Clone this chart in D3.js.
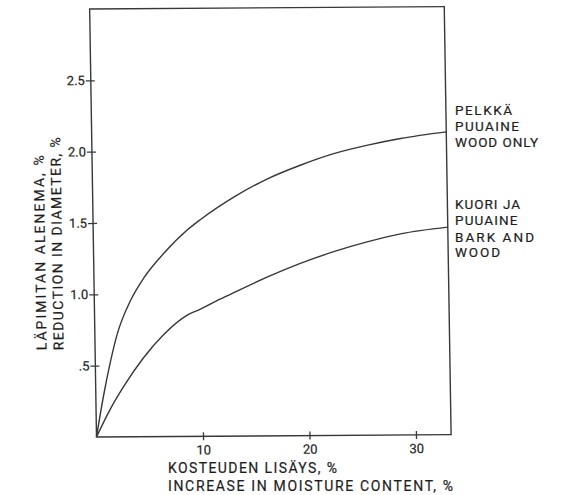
<!DOCTYPE html>
<html><head><meta charset="utf-8">
<script src="https://cdn.jsdelivr.net/npm/d3@7"></script>
<style>
html,body{margin:0;padding:0;background:#fff;}
svg{display:block;}
text{font-family:Roboto,"DejaVu Sans",sans-serif;fill:#1e1e1e;stroke:#1e1e1e;stroke-width:0.2;}
</style>
</head><body><svg id="chart" width="564" height="495"></svg>
<script>
// ---- data ----
const woodOnlyX = [0, 0.7, 1.4, 2.1, 3.4, 4.7, 6.6, 8.8, 10.1, 13.25, 16.4, 19.6, 22.7, 25.9, 29.0, 33.3];
const woodOnlyY = [0, 0.28, 0.52, 0.72, 0.955, 1.115, 1.285, 1.445, 1.52, 1.675, 1.80, 1.897, 1.975, 2.033, 2.078, 2.122];
const barkWoodX = [0, 1.3, 2.6, 4.5, 6.4, 8.7, 9.9, 11.8, 13.1, 16.25, 19.4, 22.55, 25.7, 28.85, 33.3];
const barkWoodY = [0, 0.19, 0.35, 0.55, 0.71, 0.85, 0.89, 0.96, 1.005, 1.112, 1.207, 1.288, 1.355, 1.41, 1.455];
const xDomain = [0, 33.3];
const yDomain = [0, 3];
const xTicks = [10, 20, 30];
const xTickLabels = ["10", "20", "30"];
const yTicks = [0.5, 1, 1.5, 2, 2.5];
const yTickLabels = [".5", "1.0", "1.5", "2.0", "2.5"];
const woodOnlyLabel = ["PELKKÄ", "PUUAINE", "WOOD ONLY"];
const barkWoodLabel = ["KUORI JA", "PUUAINE", "BARK AND", "WOOD"];
const xTitle = ["KOSTEUDEN LISÄYS, %", "INCREASE IN MOISTURE CONTENT, %"];
const yTitle = ["LÄPIMITAN ALENEMA, %", "REDUCTION IN DIAMETER, %"];

// ---- layout ----
const svg = d3.select("#chart");
const ink = "#383838";
const x = d3.scaleLinear().domain(xDomain).range([0, 354.6]);
const y = d3.scaleLinear().domain(yDomain).range([0, -428]);

// slightly skewed scan: plot group in local coords, origin at axis corner
const g = svg.append("g")
  .attr("transform", "translate(96.5,437) matrix(1,-0.0066,0.016,1,0,0)");

// frame
g.append("rect")
  .attr("x", x(xDomain[0])).attr("y", y(yDomain[1]))
  .attr("width", x(xDomain[1]) - x(xDomain[0]))
  .attr("height", y(yDomain[0]) - y(yDomain[1]))
  .attr("fill", "none").attr("stroke", ink).attr("stroke-width", 1.4);

// x axis
const xAxis = g.append("g")
  .call(d3.axisBottom(x).tickValues(xTicks).tickSize(4).tickPadding(5)
    .tickFormat((d, i) => xTickLabels[i]));
xAxis.select(".domain").remove();
xAxis.selectAll(".tick line").attr("y1", -4).attr("stroke", ink).attr("stroke-width", 1.3);
xAxis.selectAll(".tick text").attr("font-size", 13).attr("font-family", "Roboto").attr("fill", "#1e1e1e");

// y axis
const yAxis = g.append("g")
  .call(d3.axisLeft(y).tickValues(yTicks).tickSize(5).tickPadding(1)
    .tickFormat((d, i) => yTickLabels[i]));
yAxis.select(".domain").remove();
yAxis.selectAll(".tick line").attr("x1", 4).attr("stroke", ink).attr("stroke-width", 1.3);
yAxis.selectAll(".tick text").attr("font-size", 13).attr("font-family", "Roboto").attr("fill", "#1e1e1e");

// curves
const line = d3.line().x(d => x(d[0])).y(d => y(d[1])).curve(d3.curveMonotoneX);
const series = [
  d3.zip(woodOnlyX, woodOnlyY),
  d3.zip(barkWoodX, barkWoodY)
];
g.selectAll("path.curve").data(series).enter().append("path")
  .attr("class", "curve")
  .attr("d", line)
  .attr("fill", "none").attr("stroke", ink).attr("stroke-width", 1.4);

// y title (rotated, inside skewed group)
const yTitlePos = [{x: -48.5, len: 195}, {x: -31.5, len: 213}];
yTitle.forEach((t, i) => {
  g.append("text")
    .attr("transform", `translate(${yTitlePos[i].x},-87) rotate(-90)`)
    .attr("text-anchor", "start")
    .attr("font-size", 14)
    .attr("textLength", yTitlePos[i].len)
    .attr("lengthAdjust", "spacing")
    .text(t);
});

// x title
const xTitlePos = [{y: 473, len: 169}, {y: 491, len: 285}];
xTitle.forEach((t, i) => {
  svg.append("text")
    .attr("x", 168).attr("y", xTitlePos[i].y)
    .attr("font-size", 14)
    .attr("textLength", xTitlePos[i].len)
    .attr("lengthAdjust", "spacing")
    .text(t);
});

// curve labels
const woodPos = [{y: 114.8, len: 57}, {y: 130.5, len: 64}, {y: 147, len: 83}];
const barkPos = [{y: 209.3, len: 65}, {y: 224.8, len: 62.5}, {y: 241.6, len: 79}, {y: 256.8, len: 45}];
function drawLabel(lines, pos) {
  lines.forEach((t, i) => {
    svg.append("text")
      .attr("x", 455).attr("y", pos[i].y)
      .attr("font-size", 13.5)
      .attr("textLength", pos[i].len)
      .attr("lengthAdjust", "spacing")
      .text(t);
  });
}
drawLabel(woodOnlyLabel, woodPos);
drawLabel(barkWoodLabel, barkPos);
</script>
</body></html>
